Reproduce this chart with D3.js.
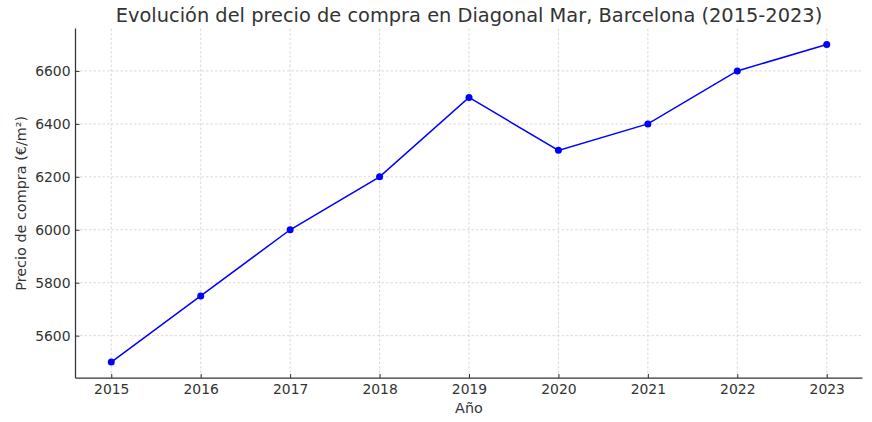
<!DOCTYPE html>
<html><head><meta charset="utf-8">
<script src="https://cdn.jsdelivr.net/npm/d3@7"></script>
<style>body{margin:0;background:#fff}svg{display:block}text{font-family:"DejaVu Sans",sans-serif;fill:#333}</style>
</head><body><svg id="c" width="872" height="422"></svg>
<script>
const years = [2015,2016,2017,2018,2019,2020,2021,2022,2023];
const prices = [5500,5750,6000,6200,6500,6300,6400,6600,6700];
const yTicks = [5600,5800,6000,6200,6400,6600];
const title = "Evolución del precio de compra en Diagonal Mar, Barcelona (2015-2023)";
const xLabel = "Año";
const yLabel = "Precio de compra (€/m²)";

const svg = d3.select("#c");
const L=75.5, R=862.5, T=28.6, B=378;
const x = d3.scaleLinear().domain([2014.6,2023.4]).range([L,R]);
const y = d3.scaleLinear().domain([5440,6760]).range([B,T]);

// grid
const g = svg.append("g");
g.selectAll(".gx").data(years).enter().append("line")
 .attr("x1",d=>x(d)).attr("x2",d=>x(d)).attr("y1",T).attr("y2",B)
 .attr("stroke","#cfcfcf").attr("stroke-width",0.8).attr("stroke-dasharray","2.5,2");
g.selectAll(".gy").data(yTicks).enter().append("line")
 .attr("x1",L).attr("x2",R).attr("y1",d=>y(d)).attr("y2",d=>y(d))
 .attr("stroke","#cfcfcf").attr("stroke-width",0.8).attr("stroke-dasharray","2.5,2");

// axes
const xa = svg.append("g").attr("transform",`translate(0,${B})`)
 .call(d3.axisBottom(x).tickValues(years).tickFormat(d3.format("d")).tickSize(-4).tickPadding(6));
const ya = svg.append("g").attr("transform",`translate(${L},0)`)
 .call(d3.axisLeft(y).tickValues(yTicks).tickFormat(d3.format("d")).tickSize(-4).tickPadding(5));
[xa,ya].forEach(a=>{
  a.select(".domain").attr("stroke","#333").attr("stroke-width",1.25);
  a.selectAll(".tick line").attr("stroke","#333").attr("stroke-width",1);
  a.selectAll(".tick text").attr("font-family","DejaVu Sans").attr("font-size",13.9).attr("fill","#333");
});
xa.select(".domain").attr("d",`M${L},0H${R}`);
ya.select(".domain").attr("d",`M0,${B}V${T}`);

// line
svg.append("path").datum(years.map((d,i)=>[d,prices[i]]))
 .attr("fill","none").attr("stroke","#0000ff").attr("stroke-width",1.5)
 .attr("d",d3.line().x(d=>x(d[0])).y(d=>y(d[1])));
svg.selectAll(".pt").data(years).enter().append("circle")
 .attr("cx",d=>x(d)).attr("cy",(d,i)=>y(prices[i])).attr("r",3.5).attr("fill","#0000ff");

// labels
svg.append("text").attr("x",(L+R)/2).attr("y",22).attr("text-anchor","middle")
 .attr("font-size",19.4).text(title);
svg.append("text").attr("x",(L+R)/2).attr("y",413).attr("text-anchor","middle")
 .attr("font-size",14.4).text(xLabel);
svg.append("text").attr("transform",`translate(26,${(T+B)/2}) rotate(-90)`).attr("text-anchor","middle")
 .attr("font-size",14.4).text(yLabel);
</script></body></html>
